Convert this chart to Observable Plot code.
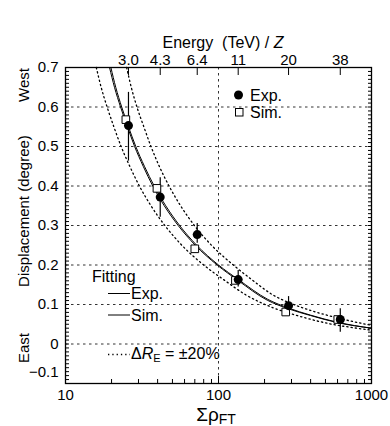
<!DOCTYPE html>
<html><head><meta charset="utf-8">
<script src="https://cdn.jsdelivr.net/npm/d3@7"></script>
<script src="https://cdn.jsdelivr.net/npm/@observablehq/plot@0.6"></script>
<style>body{margin:0;background:#fff} svg{display:block}</style>
</head><body><div id="chart"></div>
<script>
// ---- data ----
const expX = [25.8, 41.6, 72.6, 134.5, 287, 625];
const energyLabels = ["3.0", "4.3", "6.4", "11", "20", "38"];
const expY = [0.553, 0.372, 0.277, 0.163, 0.097, 0.062];
const expLo = [0.463, 0.321, 0.255, 0.144, 0.077, 0.030];
const expHi = [0.637, 0.421, 0.305, 0.186, 0.120, 0.089];
const simX = [24.8, 39.6, 70, 129, 275, 602];
const simY = [0.568, 0.394, 0.241, 0.161, 0.081, 0.062];

const fitExpX = [19.8, 21.3, 23.3, 25.8, 28.8, 32.8, 38, 45.2, 55.7, 72, 100, 135, 210, 287, 400, 600, 1000];
const fitExpY = [0.70, 0.65, 0.60, 0.55, 0.50, 0.45, 0.40, 0.35, 0.30, 0.25, 0.20, 0.163, 0.113, 0.091, 0.073, 0.055, 0.040];
const fitSimX = [19.4, 20.9, 22.9, 25.4, 28.3, 32.2, 37.2, 44.2, 54.5, 70.5, 98, 134, 208, 287, 400, 600, 1000];
const fitSimY = [0.70, 0.65, 0.60, 0.55, 0.50, 0.45, 0.40, 0.35, 0.30, 0.25, 0.20, 0.161, 0.111, 0.089, 0.072, 0.054, 0.040];
const upX = [25.1, 26.9, 29.3, 32.5, 36.2, 41, 47.5, 56.5, 69.6, 90, 125, 165, 225, 300, 400, 600, 1000];
const upY = [0.70, 0.65, 0.60, 0.55, 0.50, 0.45, 0.40, 0.35, 0.30, 0.25, 0.20, 0.163, 0.125, 0.102, 0.085, 0.066, 0.047];
const loX = [15.9, 17.1, 18.7, 20.7, 23.1, 26.3, 30.4, 36.2, 44.6, 57.6, 80, 108, 150, 230, 320, 480, 800, 1000];
const loY = [0.70, 0.65, 0.60, 0.55, 0.50, 0.45, 0.40, 0.35, 0.30, 0.25, 0.20, 0.163, 0.125, 0.091, 0.073, 0.055, 0.040, 0.035];

const yLabelTicks = [0, 0.1, 0.2, 0.3, 0.4, 0.5, 0.6, 0.7];
const yLowTick = [-0.1];
const gridYTicks = [0, 0.1, 0.2, 0.3, 0.4, 0.5, 0.6];
const gridXTicks = [100];
const xMajor = [10, 100, 1000];
const xMinor = [20, 30, 40, 50, 60, 70, 80, 90, 200, 300, 400, 500, 600, 700, 800, 900];
const yMinor = d3.range(-10, 71).map(i => i / 100);

// ---- helpers ----
const font = "'Liberation Sans', Arial, Helvetica, sans-serif";
const noLabel = () => "";
const fmtY = d => d === 0 ? "0" : (d < 0 ? "\u2212" : "") + Math.abs(d).toFixed(1);
const pts = (xs, ys) => xs.map((x, i) => ({x, y: ys[i]}));
const gridStyle = {stroke: "#333", strokeOpacity: 1, strokeWidth: 1, strokeDasharray: "2.5,3.5"};

const svg = Plot.plot({
  width: 390, height: 426,
  marginTop: 67, marginBottom: 43, marginLeft: 65, marginRight: 19,
  style: {fontFamily: font, fontSize: "15px", background: "white", color: "black"},
  x: {type: "log", domain: [10, 1000], label: null},
  y: {domain: [-0.1, 0.7], label: null},
  marks: [
    Plot.gridY(gridYTicks, gridStyle),
    Plot.gridX(gridXTicks, gridStyle),
    // inward ticks: outward ticks shifted into the frame
    Plot.axisY(yMinor, {anchor: "left", tickSize: 4, dx: 4, tickFormat: noLabel, label: null}),
    Plot.axisY(yMinor, {anchor: "right", tickSize: 4, dx: -4, tickFormat: noLabel, label: null}),
    Plot.axisY(yLabelTicks, {anchor: "left", tickSize: 0, tickPadding: 7, tickFormat: fmtY, label: null}),
    Plot.axisY(yLowTick, {anchor: "left", tickSize: 0, tickPadding: 7, dy: -11, tickFormat: fmtY, label: null}),
    Plot.axisX(xMinor, {anchor: "bottom", tickSize: 4, dy: -4, tickFormat: noLabel, label: null}),
    Plot.axisX(xMajor, {anchor: "bottom", tickSize: 7, dy: -7, tickFormat: noLabel, label: null}),
    Plot.axisX(xMajor, {anchor: "bottom", tickSize: 0, tickPadding: 6, tickFormat: d => String(d), label: null}),
    Plot.axisX(expX, {anchor: "top", tickSize: 7, dy: 7, tickFormat: noLabel, label: null}),
    Plot.text(expX, {x: d => d, text: (d, i) => energyLabels[i], frameAnchor: "top", lineAnchor: "bottom", dy: -3, fontSize: 15}),
    Plot.line(pts(upX, upY), {x: "x", y: "y", curve: "monotone-x", stroke: "black", strokeWidth: 1.3, strokeDasharray: "1.3,3"}),
    Plot.line(pts(loX, loY), {x: "x", y: "y", curve: "monotone-x", stroke: "black", strokeWidth: 1.3, strokeDasharray: "1.3,3"}),
    Plot.line(pts(fitSimX, fitSimY), {x: "x", y: "y", curve: "monotone-x", stroke: "black", strokeWidth: 1}),
    Plot.line(pts(fitExpX, fitExpY), {x: "x", y: "y", curve: "monotone-x", stroke: "black", strokeWidth: 1}),
    Plot.ruleX(expX.map((x, i) => ({x, lo: expLo[i], hi: expHi[i]})), {x: "x", y1: "lo", y2: "hi", stroke: "black", strokeWidth: 1.2}),
    Plot.dot(pts(simX, simY), {x: "x", y: "y", symbol: "square", r: 4.3, fill: "white", stroke: "black", strokeWidth: 1}),
    Plot.dot(pts(expX, expY), {x: "x", y: "y", symbol: "circle", r: 4.5, fill: "black"}),
    Plot.frame({stroke: "black", strokeWidth: 1.3})
  ]
});

// ---- titles and legends ----
const s = d3.select(svg);
const g = s.append("g").attr("font-family", font).attr("fill", "black").attr("text-anchor", "start");

const t = g.append("text").attr("x", 223).attr("y", 48).attr("text-anchor", "middle").attr("font-size", 16);
t.append("tspan").text("Energy\u00A0\u00A0(TeV) / ");
t.append("tspan").attr("font-style", "italic").text("Z");

[["Displacement (degree)", 211], ["West", 85], ["East", 348]].forEach(([txt, cy]) => {
  g.append("text").attr("transform", `translate(29,${cy}) rotate(-90)`)
    .attr("text-anchor", "middle").attr("font-size", 15).text(txt);
});

const xt = g.append("text").attr("x", 216).attr("y", 421).attr("text-anchor", "middle");
xt.append("tspan").attr("font-size", 19).text("\u03A3\u03C1");
xt.append("tspan").attr("font-size", 14).attr("dy", 3).text("FT");

// point legend
g.append("circle").attr("cx", 238.5).attr("cy", 95).attr("r", 4.5).attr("fill", "black");
g.append("text").attr("x", 250).attr("y", 100.5).attr("font-size", 16).text("Exp.");
g.append("rect").attr("x", 235.5).attr("y", 108.5).attr("width", 7.5).attr("height", 7.5)
  .attr("fill", "white").attr("stroke", "black");
g.append("text").attr("x", 250).attr("y", 117.5).attr("font-size", 16).text("Sim.");

// fitting legend
g.append("text").attr("x", 92).attr("y", 282).attr("font-size", 16).text("Fitting");
g.append("line").attr("x1", 108).attr("x2", 130).attr("y1", 293.5).attr("y2", 293.5).attr("stroke", "black");
g.append("text").attr("x", 131).attr("y", 299).attr("font-size", 16).text("Exp.");
g.append("line").attr("x1", 108).attr("x2", 130).attr("y1", 315).attr("y2", 315).attr("stroke", "black");
g.append("text").attr("x", 131).attr("y", 321).attr("font-size", 16).text("Sim.");
g.append("line").attr("x1", 108).attr("x2", 130).attr("y1", 354.5).attr("y2", 354.5)
  .attr("stroke", "black").attr("stroke-width", 1.3).attr("stroke-dasharray", "1.3,3");
const dr = g.append("text").attr("x", 131).attr("y", 359).attr("font-size", 16);
dr.append("tspan").text("\u0394");
dr.append("tspan").attr("font-style", "italic").text("R");
dr.append("tspan").attr("font-size", 11).attr("dy", 3).text("E");
dr.append("tspan").attr("dy", -3).text(" = \u00B120%");

document.getElementById("chart").appendChild(svg);
</script>
</body></html>
